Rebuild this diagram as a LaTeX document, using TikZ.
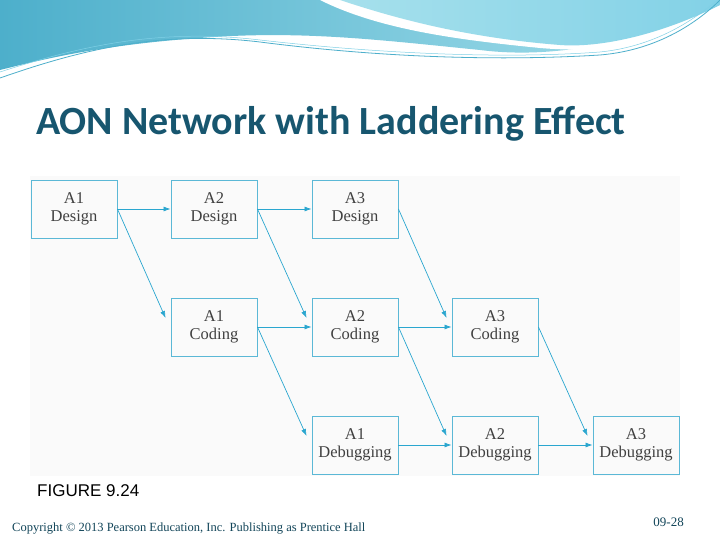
\documentclass[tikz,border=0pt]{standalone}
\usepackage{fontspec}
\setmainfont{Liberation Serif}
\newfontfamily\titlefont{Carlito}
\newfontfamily\figfont{Liberation Sans}
\usetikzlibrary{arrows.meta}
\definecolor{boxc}{HTML}{5BB8D6}
\definecolor{arrc}{HTML}{2AA6CF}
\definecolor{titlec}{HTML}{17566F}
\definecolor{wavea}{HTML}{4DAFCB}
\definecolor{waveb}{HTML}{A6E0EC}
\definecolor{wavec}{HTML}{7FD0E6}
\begin{document}
\begin{tikzpicture}[x=1pt,y=-1pt,
  box/.style={draw=boxc,line width=0.9pt,minimum width=86pt,minimum height=58pt,inner sep=0pt,align=center,font=\fontsize{16.5}{18}\selectfont,text=black!75},
  arr/.style={draw=arrc,line width=0.7pt,-{Latex[length=7pt,width=5pt]}}]
\useasboundingbox (0,0) rectangle (720,540);
\fill[white] (0,0) rectangle (720,540);
% header waves
\shade[left color=wavea, right color=waveb] (0,0) -- (720,0) -- (720,5) .. controls (640,40) and (560,60) .. (480,50) .. controls (380,40) and (300,30) .. (200,38) .. controls (100,45) and (40,60) .. (0,70) -- cycle;
\fill[white] (700,0) .. controls (760,40) and (620,55) .. (540,48) .. controls (460,40) and (380,30) .. (320,0) -- cycle;
\shade[left color=waveb, right color=wavec] (760,0) -- (720,0) -- (720,5) .. controls (660,35) and (600,48) .. (560,45) .. controls (470,38) and (400,20) .. (340,0) -- cycle;
\draw[wavea,line width=0.8pt] (0,78) .. controls (80,50) and (160,30) .. (260,42) .. controls (400,60) and (520,60) .. (600,55) .. controls (660,50) and (700,20) .. (720,0);
\draw[wavec,line width=0.5pt] (0,72) .. controls (80,46) and (160,28) .. (260,40) .. controls (400,56) and (520,58) .. (600,52) .. controls (660,46) and (700,15) .. (720,-2);
% title
\node[anchor=base west,inner sep=0pt,text=titlec,font=\titlefont\bfseries\fontsize{40}{44}\selectfont] (title) at (36,135) {AON Network with Laddering Effect};
\fill[gray!4] (30,176) rectangle (680,476);
% boxes
\node[box] (d1) at (74,209) {A1\\Design};
\node[box] (d2) at (214,209) {A2\\Design};
\node[box] (d3) at (355,209) {A3\\Design};
\node[box] (c1) at (214,327) {A1\\Coding};
\node[box] (c2) at (355,327) {A2\\Coding};
\node[box] (c3) at (495,327) {A3\\Coding};
\node[box] (b1) at (355,445) {A1\\Debugging};
\node[box] (b2) at (495,445) {A2\\Debugging};
\node[box] (b3) at (636,445) {A3\\Debugging};
% arrows
\foreach \a/\b in {d1/d2,d2/d3,c1/c2,c2/c3,b1/b2,b2/b3} \draw[arr] (\a.east) -- (\b.west);
\foreach \a/\b in {d1/c1,d2/c2,d3/c3,c1/b1,c2/b2,c3/b3} \draw[arr] (\a.east) -- ([xshift=-5pt,yshift=9pt]\b.west);
% captions
\node[anchor=base west,inner sep=0pt,font=\figfont\fontsize{17}{19}\selectfont] (fig) at (37,496) {FIGURE 9.24};
\node[anchor=base west,inner sep=0pt,text=titlec!80!black,font=\fontsize{12.5}{14}\selectfont] (copy) at (12,531) {Copyright © 2013 Pearson Education, Inc. Publishing as Prentice Hall};
\node[anchor=base east,inner sep=0pt,text=titlec!80!black,font=\fontsize{13}{14}\selectfont] (pg) at (684,526) {09-28};
\end{tikzpicture}
\end{document}
